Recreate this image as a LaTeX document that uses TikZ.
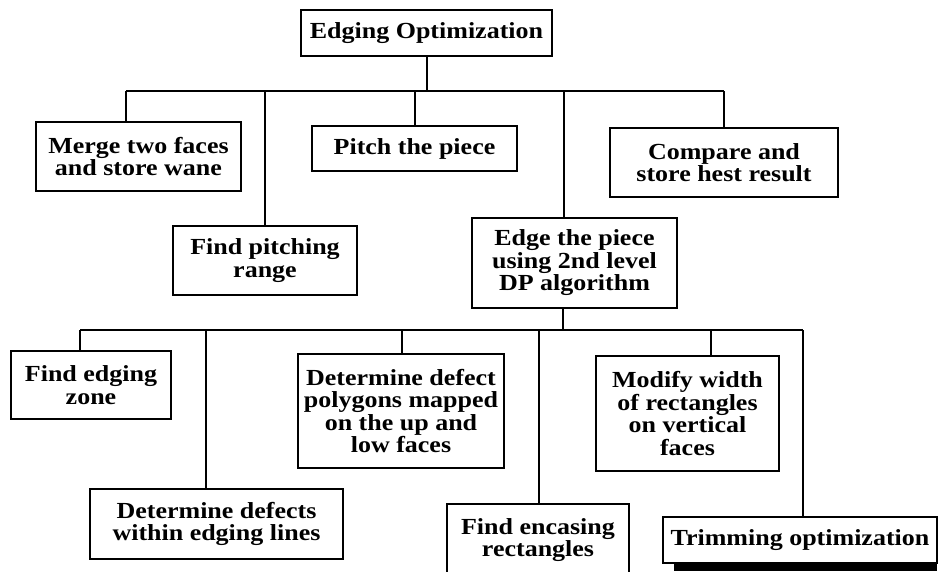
\documentclass[tikz,border=0pt]{standalone}
\usepackage{fontspec}
\setmainfont{Liberation Serif}[FakeStretch=1.13]
\begin{document}
\begin{tikzpicture}[x=1pt,y=-1pt,
  box/.style={draw,line width=2pt,inner sep=0pt,align=center,
    font=\fontsize{23}{22.5}\selectfont\bfseries},
  link/.style={line width=2pt}]
\useasboundingbox (0,0) rectangle (940,571);
% level 0
\node[box,minimum width=251,minimum height=46] (top) at (426.5,33) {Edging Optimization};
% level 1
\node[box,minimum width=205,minimum height=69] (merge) at (138.5,156.5) {Merge two faces\\and store wane};
\node[box,minimum width=205,minimum height=45] (pitch) at (414.5,148.5) {Pitch the piece};
\node[box,minimum width=228,minimum height=69] (compare) at (724,162.5) {Compare and\\store hest result};
\node[box,minimum width=184,minimum height=69] (range) at (265,260.5) {Find pitching\\range};
\node[box,minimum width=205,minimum height=90] (edge) at (574.5,263) {Edge the piece\\using 2nd level\\DP algorithm};
% level 2
\node[box,minimum width=160,minimum height=68] (zone) at (91,385) {Find edging\\zone};
\node[box,minimum width=206,minimum height=114] (poly) at (401,411) {Determine defect\\polygons mapped\\on the up and\\low faces};
\node[box,minimum width=183,minimum height=115] (modify) at (687.5,413.5) {Modify width\\of rectangles\\on vertical\\faces};
\node[box,minimum width=253,minimum height=70] (within) at (216.5,524) {Determine defects\\within edging lines};
\node[box,minimum width=182,minimum height=72] (encase) at (538,540) {Find encasing\\rectangles};
\node[box,minimum width=274,minimum height=46] (trim) at (800,540) {Trimming optimization};
\fill (674,563) rectangle (937,571);
% bus 1
\coordinate (b1l) at (126,91);
\coordinate (b1r) at (724,91);
\coordinate (b1a) at (265,91);
\coordinate (b1c) at (564,91);
\draw[link] (top.south) -- (top.south |- b1l);
\draw[link] (b1l) -- (b1r);
\draw[link] (b1l) -- (b1l |- merge.north);
\draw[link] (b1a) -- (range.north);
\draw[link] (pitch.north |- b1l) -- (pitch.north);
\draw[link] (b1c) -- (b1c |- edge.north);
\draw[link] (b1r) -- (compare.north);
% bus 2
\coordinate (b2l) at (80,330);
\coordinate (b2r) at (803,330);
\coordinate (b2a) at (206,330);
\coordinate (b2b) at (402,330);
\coordinate (b2c) at (539,330);
\coordinate (b2d) at (711,330);
\coordinate (b2s) at (563,330);
\draw[link] (b2s |- edge.south) -- (b2s);
\draw[link] (b2l) -- (b2r);
\draw[link] (b2l) -- (b2l |- zone.north);
\draw[link] (b2a) -- (b2a |- within.north);
\draw[link] (b2b) -- (b2b |- poly.north);
\draw[link] (b2c) -- (b2c |- encase.north);
\draw[link] (b2d) -- (b2d |- modify.north);
\draw[link] (b2r) -- (b2r |- trim.north);
\end{tikzpicture}
\end{document}
